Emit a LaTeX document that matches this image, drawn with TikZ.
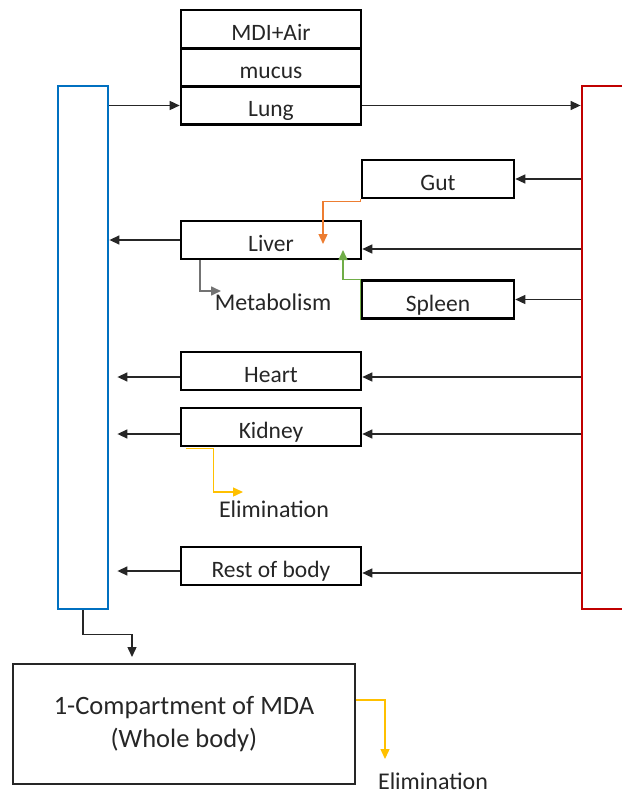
\documentclass[tikz,border=0pt]{standalone}
\usepackage{fontspec}
\setmainfont{Carlito}
\usetikzlibrary{arrows.meta}
\definecolor{venblue}{HTML}{0070C0}
\definecolor{artred}{HTML}{C00000}
\definecolor{gutorange}{HTML}{ED7D31}
\definecolor{spgreen}{HTML}{70AD47}
\definecolor{elimyel}{HTML}{FFC000}
\definecolor{lbltext}{HTML}{262626}
\tikzset{
  organ/.style={draw=black, line width=2.6pt, minimum width=180pt, minimum height=38pt, inner sep=0pt, text height=23pt, text depth=0pt, font=\fontsize{23.5}{27}\selectfont, text=lbltext},
  sorgan/.style={organ, minimum width=152pt},
  venbox/.style={draw=venblue, line width=2.8pt, minimum width=50pt, minimum height=523pt, inner sep=0pt},
  artbox/.style={draw=artred, line width=2.8pt, minimum width=60pt, minimum height=523pt, inner sep=0pt},
  cmpbox/.style={draw=black!85, line width=1.2pt, minimum width=342pt, minimum height=120pt, align=center, font=\fontsize{26.5}{33}\selectfont, text=lbltext},
  lbl/.style={font=\fontsize{24}{28}\selectfont, text=lbltext, inner sep=0pt},
  flow/.style={-{Triangle[length=10pt,width=9pt]}, draw=black!85, line width=1.4pt},
  metflow/.style={-{Triangle[length=10pt,width=9pt]}, draw=black!55, line width=1.6pt},
  gutflow/.style={-{Triangle[length=10pt,width=9pt]}, draw=gutorange, line width=1.4pt},
  spflow/.style={-{Triangle[length=10pt,width=9pt]}, draw=spgreen, line width=1.4pt},
  elimflow/.style={-{Triangle[length=10pt,width=9pt]}, draw=elimyel, line width=1.4pt},
}
\begin{document}
\begin{tikzpicture}[x=1pt,y=-1pt]
  \useasboundingbox (0,0) rectangle (621,794);
  % blood pools
  \node[venbox] (ven) at (83,347.5) {};
  \node[artbox] (art) at (612,347.5) {};
  % lung stack
  \node[organ] (mdi) at (271,29) {MDI+Air};
  \node[organ] (mucus) at (271,67.5) {mucus};
  \node[organ] (lung) at (271,105.5) {Lung};
  % organs
  \node[sorgan] (gut) at (438,179) {Gut};
  \node[organ] (liver) at (271,240) {Liver};
  \node[sorgan] (spleen) at (438,299.5) {Spleen};
  \node[organ] (heart) at (271,371) {Heart};
  \node[organ] (kidney) at (271,427) {Kidney};
  \node[organ] (rest) at (271,566) {Rest of body};
  \node[cmpbox] (comp) at (184,724) {1-Compartment of MDA\\(Whole body)};
  % labels
  \node[lbl] (metab) at (273,302) {Metabolism};
  \node[lbl] (elim) at (274,509) {Elimination};
  \node[lbl] (elimb) at (433,781) {Elimination};
  % free ends
  \coordinate (vin) at ([xshift=8pt]ven.east);
  \coordinate (gutin) at (323,244);
  \coordinate (spin) at (343,250);
  \coordinate (metin) at (221,291);
  \coordinate (elimin) at (243,492);
  \coordinate (cmpin) at (132,657);
  \coordinate (elimbin) at (385,759);
  % flows
  \draw[flow] (ven.east |- lung.west) -- (lung.west);
  \draw[flow] (lung.east) -- (art.west |- lung.east);
  \draw[flow] (art.west |- gut.east) -- (gut.east);
  \draw[flow] ([yshift=-9pt]art.west |- liver.east) -- ([yshift=-9pt]liver.east);
  \draw[flow] (liver.west) -- (ven.east |- liver.west);
  \draw[flow] (art.west |- spleen.east) -- (spleen.east);
  \draw[flow] ([yshift=-6pt]art.west |- heart.east) -- ([yshift=-6pt]heart.east);
  \draw[flow] ([yshift=-6pt]heart.west) -- ([yshift=-6pt]vin |- heart.west);
  \draw[flow] ([yshift=-7pt]art.west |- kidney.east) -- ([yshift=-7pt]kidney.east);
  \draw[flow] ([yshift=-7pt]kidney.west) -- ([yshift=-7pt]vin |- kidney.west);
  \draw[flow] ([yshift=-7pt]art.west |- rest.east) -- ([yshift=-7pt]rest.east);
  \draw[flow] ([yshift=-5pt]rest.west) -- ([yshift=-5pt]vin |- rest.west);
  \draw[gutflow] (gut.south west) -- ++(0,2) -| (gutin);
  \draw[spflow] (spleen.south west) -- (spleen.north west) -| (spin);
  \draw[metflow] ([xshift=20pt]liver.south west) |- (metin);
  \draw[elimflow] ([xshift=6pt,yshift=-1pt]kidney.south west) -- ++(28,0) |- (elimin);
  \draw[flow] (ven.south) -- ++(0,24) -| (cmpin);
  \draw[elimflow] ([yshift=24pt]comp.east) -| (elimbin);
\end{tikzpicture}
\end{document}
